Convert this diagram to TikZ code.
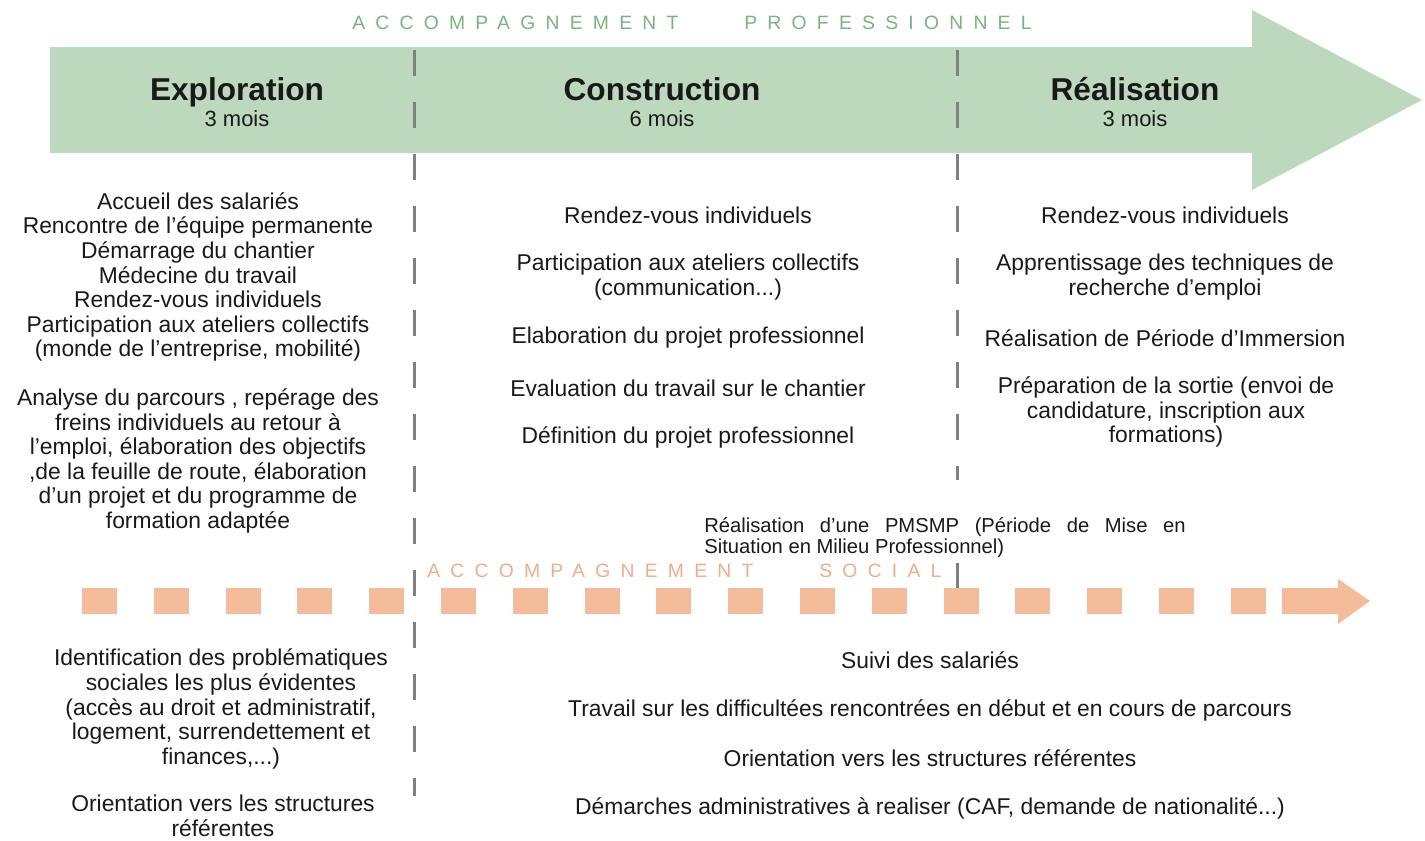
\documentclass[tikz,border=0pt]{standalone}
\usepackage{fontspec}
\setmainfont{Liberation Sans}
\newfontfamily\spacedfont[LetterSpace=53]{Liberation Sans}
\definecolor{arrowgreen}{RGB}{189,217,189}
\definecolor{titlegreen}{RGB}{122,178,128}
\definecolor{socialfill}{RGB}{245,188,156}
\definecolor{socialtext}{RGB}{236,172,142}
\definecolor{divgray}{RGB}{128,128,128}
\definecolor{ink}{RGB}{25,25,25}
\begin{document}
\begin{tikzpicture}[x=0.02cm,y=-0.02cm,
  txt/.style={align=center, font=\fontsize{13}{14}\selectfont, text=ink, inner sep=0pt},
  phasehead/.style={font=\fontsize{18}{20}\selectfont\bfseries, text=ink, anchor=base, inner sep=0pt},
  phasesub/.style={font=\fontsize{12.5}{14}\selectfont, text=ink, anchor=base, inner sep=0pt},
  spaced/.style={font=\fontsize{11}{13}\selectfont\spacedfont, anchor=base west, inner sep=0pt},
  divider/.style={draw=divgray, line width=0.06cm, dash pattern=on 0.52cm off 0.52cm},
  sq/.style={fill=socialfill, draw=none}]
\useasboundingbox (0,0) rectangle (1425,840);

% professional arrow
\fill[arrowgreen] (50,47) -- (1252,47) -- (1252,10) -- (1422,100) -- (1252,190) -- (1252,153) -- (50,153) -- cycle;

% dividers
\coordinate (d1top) at (414,50);
\coordinate (d1bot) at (414,796);
\coordinate (d2top) at (957,50);
\coordinate (d2gapa) at (957,480);
\coordinate (d2gapb) at (957,563);
\coordinate (d2bot) at (957,590);
\draw[divider] (d1top) -- (d1bot);
\draw[divider] (d2top) -- (d2gapa);
\draw[divider] (d2gapb) -- (d2bot);

% social dotted arrow
\foreach \i in {0,...,16} \fill[sq] ({82+71.8*\i},588) rectangle ++(35,26);
\fill[socialfill] (1282,588) -- (1338,588) -- (1338,579) -- (1370,601) -- (1338,624) -- (1338,614) -- (1282,614) -- cycle;

% titles
\node[spaced, text=titlegreen] (tp1) at (352,29) {ACCOMPAGNEMENT};
\node[spaced, text=titlegreen] (tp2) at (744,29) {PROFESSIONNEL};
\node[spaced, text=socialtext] (ts1) at (427,577) {ACCOMPAGNEMENT};
\node[spaced, text=socialtext] (ts2) at (819,577) {SOCIAL};

% phase headings
\node[phasehead] (h1) at (237,100) {Exploration};
\node[phasesub] (s1) at (237,126) {3 mois};
\node[phasehead] (h2) at (662,100) {Construction};
\node[phasesub] (s2) at (662,126) {6 mois};
\node[phasehead] (h3) at (1135,100) {Réalisation};
\node[phasesub] (s3) at (1135,126) {3 mois};

% column 1 (exploration)
\node[txt] (e1) at (198,277) {Accueil des salariés\\Rencontre de l'équipe permanente\\Démarrage du chantier\\Médecine du travail\\Rendez-vous individuels\\Participation aux ateliers collectifs\\(monde de l'entreprise, mobilité)};
\node[txt] (e2) at (198,461) {Analyse du parcours , repérage des\\freins individuels au retour à\\l'emploi, élaboration des objectifs\\,de la feuille de route, élaboration\\d'un projet et du programme de\\formation adaptée};

% column 2 (construction)
\node[txt] (c1) at (688,215) {Rendez-vous individuels};
\node[txt] (c2) at (688,277) {Participation aux ateliers collectifs\\(communication...)};
\node[txt] (c3) at (688,338) {Elaboration du projet professionnel};
\node[txt] (c4) at (688,388) {Evaluation du travail sur le chantier};
\node[txt] (c5) at (688,437) {Définition du projet professionnel};

% column 3 (realisation)
\node[txt] (r1) at (1165,215) {Rendez-vous individuels};
\node[txt] (r2) at (1165,277) {Apprentissage des techniques de\\recherche d'emploi};
\node[txt] (r3) at (1165,338) {Réalisation de Période d'Immersion};
\node[txt] (r4) at (1166,412) {Préparation de la sortie (envoi de\\candidature, inscription aux\\formations)};

% PMSMP
\node[font=\fontsize{11.5}{12}\selectfont, text=ink, text width=274pt, align=justify,
      anchor=north west, inner sep=0pt] (pm) at (704,517)
  {Réalisation d'une PMSMP (Période de Mise en\linebreak Situation en Milieu Professionnel)};

% social bottom
\node[txt] (b1) at (221,709) {Identification des problématiques\\sociales les plus évidentes\\(accès au droit et administratif,\\logement, surrendettement et\\finances,...)};
\node[txt] (b2) at (223,816) {Orientation vers les structures\\référentes};
\node[txt] (b3) at (930,660) {Suivi des salariés};
\node[txt] (b4) at (930,710) {Travail sur les difficultées rencontrées en début et en cours de parcours};
\node[txt] (b5) at (930,758) {Orientation vers les structures référentes};
\node[txt] (b6) at (930,808) {Démarches administratives à realiser (CAF, demande de nationalité...)};
\end{tikzpicture}
\end{document}
